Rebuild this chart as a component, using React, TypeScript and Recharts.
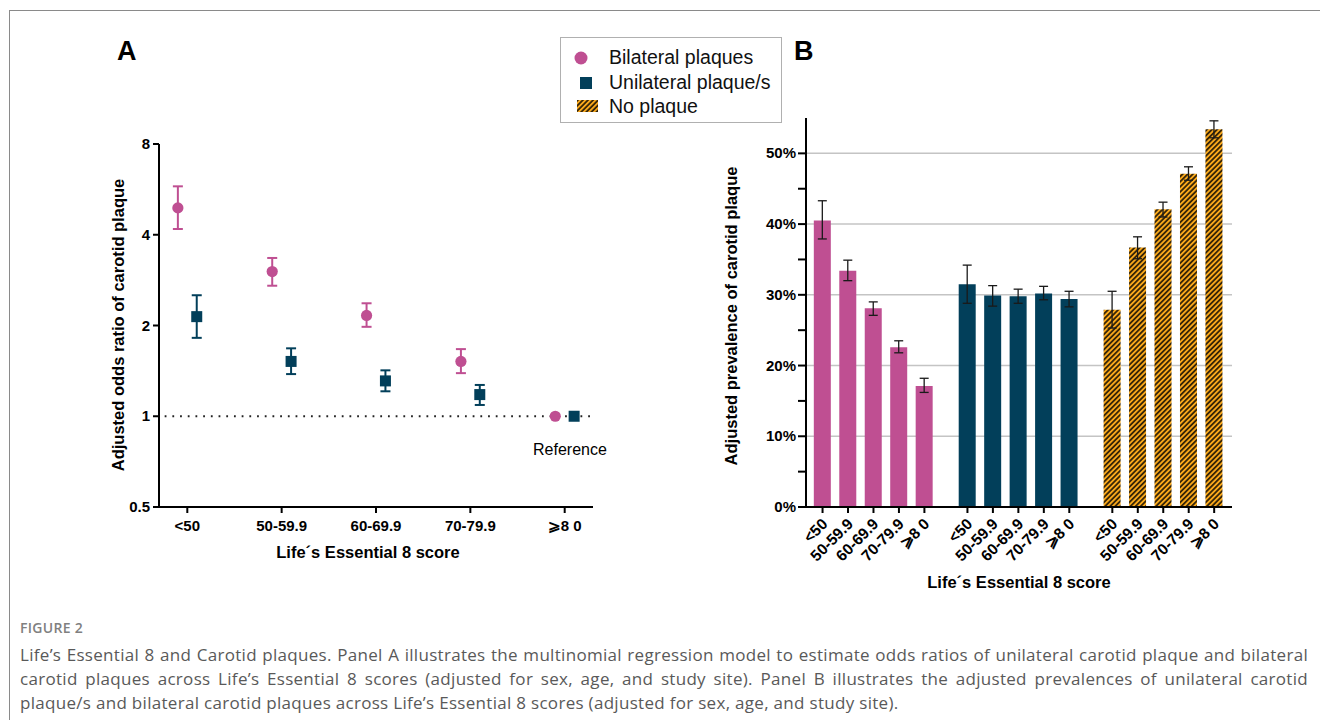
import React from 'react';
import {
  ScatterChart, Scatter, XAxis, YAxis, ErrorBar, ReferenceLine,
  BarChart, Bar, Cell, CartesianGrid,
} from 'recharts';

// ---------- categories ----------
const categories = ['<50', '50-59.9', '60-69.9', '70-79.9', '⩾8 0'];

// ---------- Panel A: adjusted odds ratios ----------
const bilateralOR = [4.91, 3.02, 2.16, 1.52, 1];
const bilateralLo = [4.18, 2.71, 1.98, 1.39, 1];
const bilateralHi = [5.79, 3.35, 2.37, 1.67, 1];
const unilateralOR = [2.14, 1.52, 1.31, 1.18, 1];
const unilateralLo = [1.82, 1.38, 1.21, 1.09, 1];
const unilateralHi = [2.52, 1.68, 1.42, 1.27, 1];
const orTicks = [0.5, 1, 2, 4, 8];

// ---------- Panel B: adjusted prevalences (%) ----------
const bilateralPrev = [40.5, 33.4, 28.1, 22.6, 17.1];
const bilateralPrevLo = [37.9, 32.0, 27.1, 21.8, 16.2];
const bilateralPrevHi = [43.3, 34.9, 29.0, 23.5, 18.2];
const unilateralPrev = [31.5, 29.9, 29.8, 30.2, 29.4];
const unilateralPrevLo = [28.8, 28.4, 28.8, 29.3, 28.3];
const unilateralPrevHi = [34.2, 31.3, 30.8, 31.2, 30.5];
const noPlaquePrev = [27.9, 36.7, 42.1, 47.1, 53.4];
const noPlaquePrevLo = [25.3, 35.1, 41.0, 46.2, 52.2];
const noPlaquePrevHi = [30.5, 38.2, 43.1, 48.1, 54.6];
const prevTicks = [0, 5, 10, 15, 20, 25, 30, 35, 40, 45, 50];
const prevGrid = [10, 20, 30, 40, 50];

const seriesNames = ['Bilateral plaques', 'Unilateral plaque/s', 'No plaque'];

// ---------- styling ----------
const FONT = '"Liberation Sans", Arial, sans-serif';
const CAPFONT = '"Open Sans", "Noto Sans", sans-serif';
const PINK = '#bf4f92';
const NAVY = '#023f5a';
const ORANGE = '#f9a81b';

// ---------- derived tables ----------
const OFFSET = 0.1;
const mkErr = (v: number, lo: number, hi: number) => (lo === hi ? null : [v - lo, hi - v]);
const scatterBi = categories.map((c, i) => ({
  x: i - OFFSET, y: bilateralOR[i], err: mkErr(bilateralOR[i], bilateralLo[i], bilateralHi[i]),
}));
const scatterUni = categories.map((c, i) => ({
  x: i + OFFSET, y: unilateralOR[i], err: mkErr(unilateralOR[i], unilateralLo[i], unilateralHi[i]),
}));

const GROUP_STRIDE = 5.69;
const groupVals = [bilateralPrev, unilateralPrev, noPlaquePrev];
const groupLo = [bilateralPrevLo, unilateralPrevLo, noPlaquePrevLo];
const groupHi = [bilateralPrevHi, unilateralPrevHi, noPlaquePrevHi];
const groupFill = [PINK, NAVY, 'url(#hatch)'];
const barData = groupVals.flatMap((vals, g) =>
  vals.map((v, i) => ({
    pos: g * GROUP_STRIDE + i,
    cat: categories[i],
    group: seriesNames[g],
    value: v,
    err: [v - groupLo[g][i], groupHi[g][i] - v],
    fill: groupFill[g],
  })),
);
const barTicks = barData.map((d) => d.pos);

// ---------- tick renderers ----------
const AXTick = (p: any) => (
  <text x={p.x} y={p.y + 16} textAnchor="middle" fontFamily={FONT} fontWeight={700} fontSize={15} fill="#000">
    {categories[p.payload.value]}
  </text>
);
const AYTick = (p: any) => (
  <text x={p.x} y={p.y + 5} textAnchor="end" fontFamily={FONT} fontWeight={700} fontSize={15} fill="#000">
    {String(p.payload.value)}
  </text>
);
const BXTick = (p: any) => {
  const tx = p.x + 6;
  const ty = p.y + 10;
  const d = barData[p.index];
  return (
    <text x={tx} y={ty} transform={`rotate(-45 ${tx} ${ty})`} textAnchor="end" fontFamily={FONT}
      fontWeight={700} fontSize={15.5} fill="#000">
      {d ? d.cat : ''}
    </text>
  );
};
const BYTick = (p: any) => {
  const v = p.payload.value;
  if (v % 10 !== 0) return <g />;
  return (
    <text x={p.x} y={p.y + 5} textAnchor="end" fontFamily={FONT} fontWeight={700} fontSize={15} fill="#000">
      {`${v}%`}
    </text>
  );
};

const abs = (x: number, y: number): React.CSSProperties => ({ position: 'absolute', left: x, top: y });

const rotTitle = (text: string, cx: number, cy: number) => (
  <div style={{
    position: 'absolute', left: cx - 200, top: cy - 10, width: 400, height: 20, textAlign: 'center',
    transform: 'rotate(-90deg)', fontFamily: FONT, fontWeight: 700, fontSize: 16.5, lineHeight: '20px', color: '#000',
  }}>{text}</div>
);

export default function App() {
  return (
    <div style={{ position: 'absolute', left: 0, top: 0, width: 1320, height: 720, background: '#fff', overflow: 'hidden' }}>
      <svg width="0" height="0" style={{ position: 'absolute' }}>
        <defs>
          <pattern id="hatch" patternUnits="userSpaceOnUse" width="3.6" height="3.6" patternTransform="rotate(45)">
            <rect width="3.6" height="3.6" fill={ORANGE} />
            <line x1="1.8" y1="0" x2="1.8" y2="3.6" stroke="#000" strokeWidth="1.4" />
          </pattern>
        </defs>
      </svg>

      {/* frame */}
      <div style={{ position: 'absolute', left: 9, top: 10, width: 1320, height: 720, borderTop: '1.5px solid #8a8a8a', borderLeft: '1.5px solid #8a8a8a' }} />

      {/* Panel labels */}
      <div style={{ ...abs(117, 36), fontFamily: FONT, fontWeight: 700, fontSize: 27, color: '#000' }}>A</div>
      <div style={{ ...abs(794, 36), fontFamily: FONT, fontWeight: 700, fontSize: 27, color: '#000' }}>B</div>

      {/* Panel A */}
      <div style={abs(100, 120)}>
        <ScatterChart width={520} height={420} margin={{ top: 24, right: 27, bottom: 3, left: 9 }}>
          <XAxis dataKey="x" type="number" domain={[-0.3, 4.3]} ticks={[0, 1, 2, 3, 4]} allowDataOverflow
            interval={0} height={30} tick={<AXTick />} tickSize={6} tickMargin={2}
            axisLine={{ stroke: '#000', strokeWidth: 2 }} tickLine={{ stroke: '#000', strokeWidth: 2 }} />
          <YAxis dataKey="y" type="number" scale="log" domain={[0.5, 8]} ticks={orTicks} allowDataOverflow
            interval={0} width={50} tick={<AYTick />} tickSize={6} tickMargin={3}
            axisLine={{ stroke: '#000', strokeWidth: 2 }} tickLine={{ stroke: '#000', strokeWidth: 2 }} />
          <ReferenceLine segment={[{ x: -0.24, y: 1 }, { x: 4.3, y: 1 }]} stroke="#222" strokeWidth={2}
            strokeDasharray="1.8 5.9" />
          <Scatter name={seriesNames[0]} data={scatterBi} isAnimationActive={false}
            shape={(p: any) => <circle cx={p.cx} cy={p.cy} r={5.6} fill={PINK} />}>
            <ErrorBar dataKey="err" direction="y" width={5} strokeWidth={2} stroke={PINK} />
          </Scatter>
          <Scatter name={seriesNames[1]} data={scatterUni} isAnimationActive={false}
            shape={(p: any) => <rect x={p.cx - 5.5} y={p.cy - 5.5} width={11} height={11} fill={NAVY} />}>
            <ErrorBar dataKey="err" direction="y" width={5} strokeWidth={2} stroke={NAVY} />
          </Scatter>
        </ScatterChart>
      </div>
      {rotTitle('Adjusted odds ratio of carotid plaque', 118, 325)}
      <div style={{ position: 'absolute', left: 168, top: 543, width: 400, textAlign: 'center', fontFamily: FONT, fontWeight: 700, fontSize: 16.5, color: '#000' }}>
        Life´s Essential 8 score
      </div>
      <div style={{ ...abs(533, 441), fontFamily: FONT, fontSize: 16, color: '#000' }}>Reference</div>

      {/* Legend */}
      <div style={{ position: 'absolute', left: 560, top: 37, width: 220, height: 84, border: '1.5px solid #b0b0b0', background: '#fff' }}>
        <svg width={40} height={84} style={{ position: 'absolute', left: 0, top: 0 }}>
          <circle cx={20} cy={20} r={6.5} fill={PINK} />
          <rect x={19} y={39} width={12} height={12} fill={NAVY} />
          <rect x={16} y={62} width={21} height={12} fill="url(#hatch)" />
        </svg>
        {seriesNames.map((n, i) => (
          <div key={n} style={{ position: 'absolute', left: 48, top: 8 + i * 24.5, fontFamily: FONT, fontSize: 19.5, lineHeight: '22px', color: '#111', whiteSpace: 'nowrap' }}>{n}</div>
        ))}
      </div>

      {/* Panel B */}
      <div style={abs(740, 100)}>
        <BarChart width={510} height={500} data={barData} margin={{ top: 18, right: 18, bottom: 13, left: 6 }}>
          <CartesianGrid vertical={false} horizontalValues={prevGrid} stroke="#c4c4c4" strokeWidth={1.5} />
          <XAxis dataKey="pos" type="number" domain={[-0.65, 2 * GROUP_STRIDE + 4.7]} ticks={barTicks} allowDataOverflow
            interval={0} height={80} tick={<BXTick />} tickSize={6} tickMargin={2}
            axisLine={{ stroke: '#000', strokeWidth: 2 }} tickLine={{ stroke: '#000', strokeWidth: 2 }} />
          <YAxis type="number" domain={[0, 55]} ticks={prevTicks} allowDataOverflow interval={0} width={60}
            tick={<BYTick />} tickSize={8} tickMargin={2}
            axisLine={{ stroke: '#000', strokeWidth: 2 }} tickLine={{ stroke: '#000', strokeWidth: 2 }} />
          <Bar dataKey="value" barSize={17} isAnimationActive={false}>
            {barData.map((d, i) => <Cell key={i} fill={d.fill} />)}
            <ErrorBar dataKey="err" direction="y" width={4.5} strokeWidth={1.3} stroke="#1a1a1a" />
          </Bar>
        </BarChart>
      </div>
      {rotTitle('Adjusted prevalence of carotid plaque', 731, 316)}
      <div style={{ position: 'absolute', left: 819, top: 573, width: 400, textAlign: 'center', fontFamily: FONT, fontWeight: 700, fontSize: 16.5, color: '#000' }}>
        Life´s Essential 8 score
      </div>

      {/* Caption */}
      <div style={{ ...abs(20, 618), fontFamily: CAPFONT, fontSize: 14, fontWeight: 600, color: '#808080', letterSpacing: 0.3 }}>FIGURE 2</div>
      {[
        'Life’s Essential 8 and Carotid plaques. Panel A illustrates the multinomial regression model to estimate odds ratios of unilateral carotid plaque and bilateral',
        'carotid plaques across Life’s Essential 8 scores (adjusted for sex, age, and study site). Panel B illustrates the adjusted prevalences of unilateral carotid',
        'plaque/s and bilateral carotid plaques across Life’s Essential 8 scores (adjusted for sex, age, and study site).',
      ].map((line, i) => (
        <div key={i} style={{
          position: 'absolute', left: 20, top: 643 + i * 24, width: 1288, fontFamily: CAPFONT,
          fontSize: 17, letterSpacing: 0.3, lineHeight: '24px', color: '#595959', textAlign: i < 2 ? 'justify' : 'left',
          textAlignLast: i < 2 ? 'justify' : 'left', whiteSpace: 'nowrap',
        } as React.CSSProperties}>{line}</div>
      ))}
    </div>
  );
}
